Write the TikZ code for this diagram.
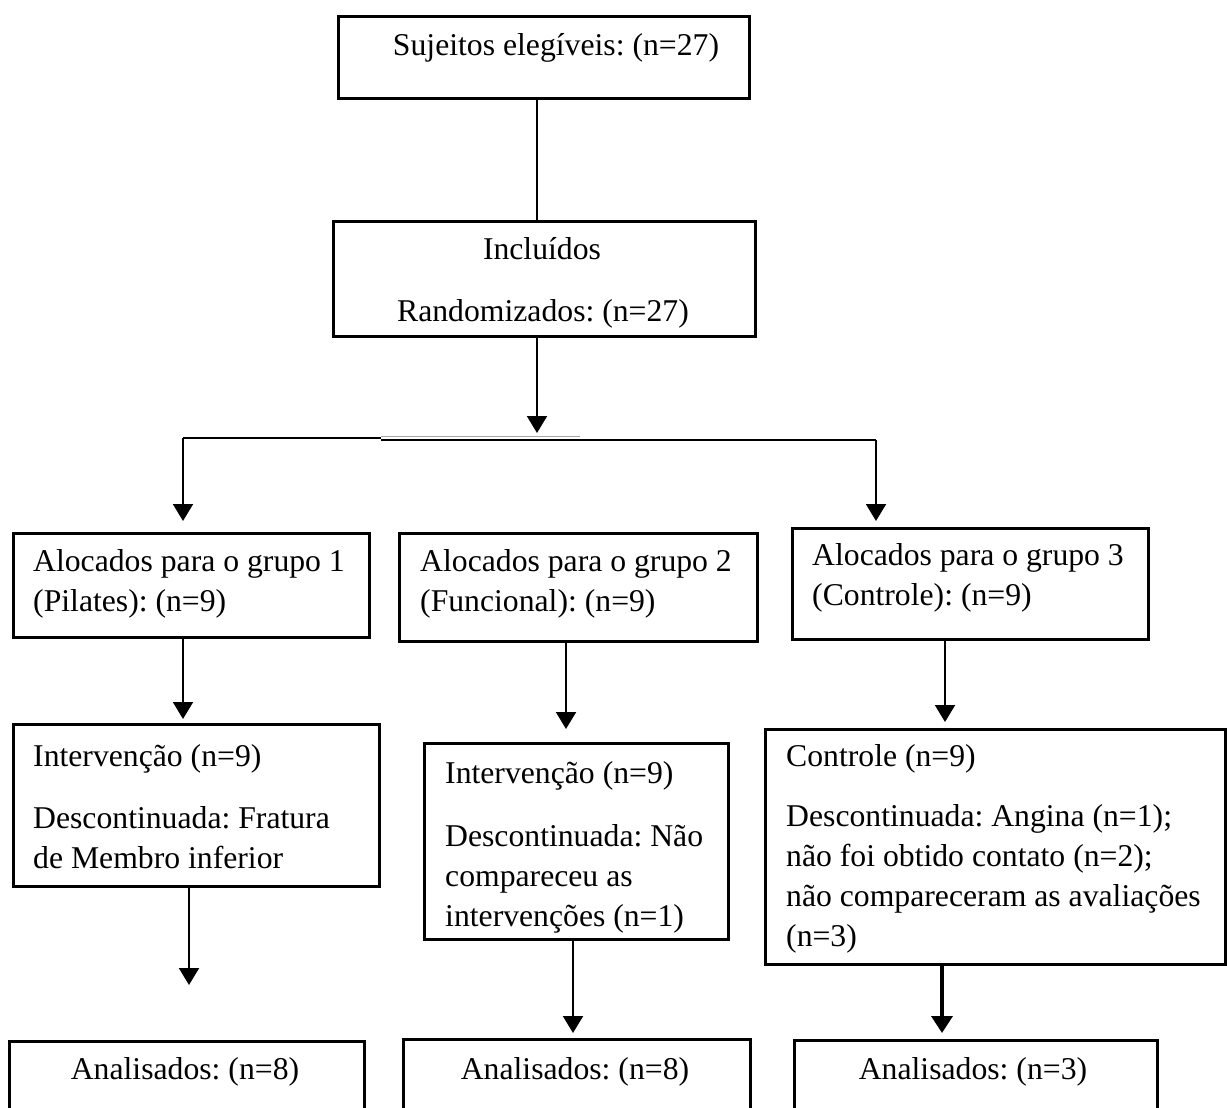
\documentclass[tikz,border=0pt]{standalone}
\usepackage{fontspec}
\setmainfont{Liberation Serif}
\usetikzlibrary{arrows.meta}
\newcommand{\fsz}{\fontsize{31.7}{40}\selectfont\frenchspacing}
\begin{document}
\begin{tikzpicture}[x=1pt,y=-1pt,
  box/.style={draw, line width=2.7pt, inner sep=0pt, anchor=north west},
  txt/.style={inner sep=0pt, anchor=north west, align=left, font=\fsz},
  ctxt/.style={inner sep=0pt, anchor=base, font=\fsz},
  conn/.style={line width=2pt},
  arr/.style={line width=2pt, -{Triangle[width=20pt,length=17pt]}},
  thickarr/.style={line width=3.6pt, -{Triangle[width=21pt,length=17pt]}}
]
\path[use as bounding box, clip] (0,0) rectangle (1227,1108);

% boxes
\node[box, minimum width=411pt, minimum height=82pt]  (top)  at (337,15) {};
\node[box, minimum width=422pt, minimum height=115pt] (incl) at (332,220) {};
\node[box, minimum width=356pt, minimum height=104pt] (g1) at (12,532) {};
\node[box, minimum width=358pt, minimum height=108pt] (g2) at (398,532) {};
\node[box, minimum width=356pt, minimum height=111pt] (g3) at (791,527) {};
\node[box, minimum width=366pt, minimum height=162pt] (i1) at (12,723) {};
\node[box, minimum width=304pt, minimum height=196pt] (i2) at (423,742) {};
\node[box, minimum width=460pt, minimum height=235pt] (i3) at (764,728) {};
\node[box, minimum width=355pt, minimum height=120pt] (a1) at (8,1040) {};
\node[box, minimum width=347pt, minimum height=120pt] (a2) at (402,1038) {};
\node[box, minimum width=363pt, minimum height=120pt] (a3) at (793,1039) {};

% texts
\node[ctxt] (topt) at (556,56) {Sujeitos elegíveis: (n=27)};
\node[ctxt] (inclt1) at (542,259) {Incluídos};
\node[ctxt] (inclt2) at (543,321) {Randomizados: (n=27)};
\node[txt] (g1t) at (33,543.6) {\strut Alocados para o grupo 1\\(Pilates): (n=9)};
\node[txt] (g2t) at (420,543.6) {\strut Alocados para o grupo 2\\(Funcional): (n=9)};
\node[txt] (g3t) at (812,537.6) {\strut Alocados para o grupo 3\\(Controle): (n=9)};
\node[txt] (i1t) at (33,738.6) {\strut Intervenção (n=9)\\[22pt]Descontinuada: Fratura\\de Membro inferior};
\node[txt] (i2t) at (445,755.6) {\strut Intervenção (n=9)\\[23pt]Descontinuada: Não\\compareceu as\\intervenções (n=1)};
\node[txt] (i3t) at (786,738.6) {\strut Controle (n=9)\\[20pt]Descontinuada: Angina (n=1);\\não foi obtido contato (n=2);\\não compareceram as avaliações\\(n=3)};
\node[ctxt] (a1t) at (185,1079) {Analisados: (n=8)};
\node[ctxt] (a2t) at (575,1079) {Analisados: (n=8)};
\node[ctxt] (a3t) at (973,1079) {Analisados: (n=3)};

% connector points
\coordinate (c0) at (537,220);
\coordinate (split) at (537,433);
\coordinate (bl) at (183,438);
\coordinate (bm) at (381,438);
\coordinate (bm2) at (381,440);
\coordinate (br) at (876,440);
\coordinate (tl) at (183,521);
\coordinate (tr) at (876,521);
\coordinate (p1) at (183,719);
\coordinate (p2) at (566,729);
\coordinate (p3) at (945,722);
\coordinate (q1) at (189,985);
\coordinate (q2) at (573,1033);
\coordinate (q3) at (942,1033);
\coordinate (gs) at (580,436);

% connectors
\draw[conn] (top.south -| c0) -- (incl.north -| c0);
\draw[arr] (incl.south -| split) -- (split);
\draw[conn] (bl) -- (bm);
\draw[conn] (bm2) -- (br);
\draw[line width=1pt, black!35] (bm |- gs) -- (gs);
\draw[arr] (bl) -- (tl);
\draw[arr] (br) -- (tr);
\draw[arr] (g1.south -| p1) -- (p1);
\draw[arr] (g2.south -| p2) -- (p2);
\draw[arr] (g3.south -| p3) -- (p3);
\draw[arr] (i1.south -| q1) -- (q1);
\draw[arr] (i2.south -| q2) -- (q2);
\draw[thickarr] (i3.south -| q3) -- (q3);
\end{tikzpicture}
\end{document}
